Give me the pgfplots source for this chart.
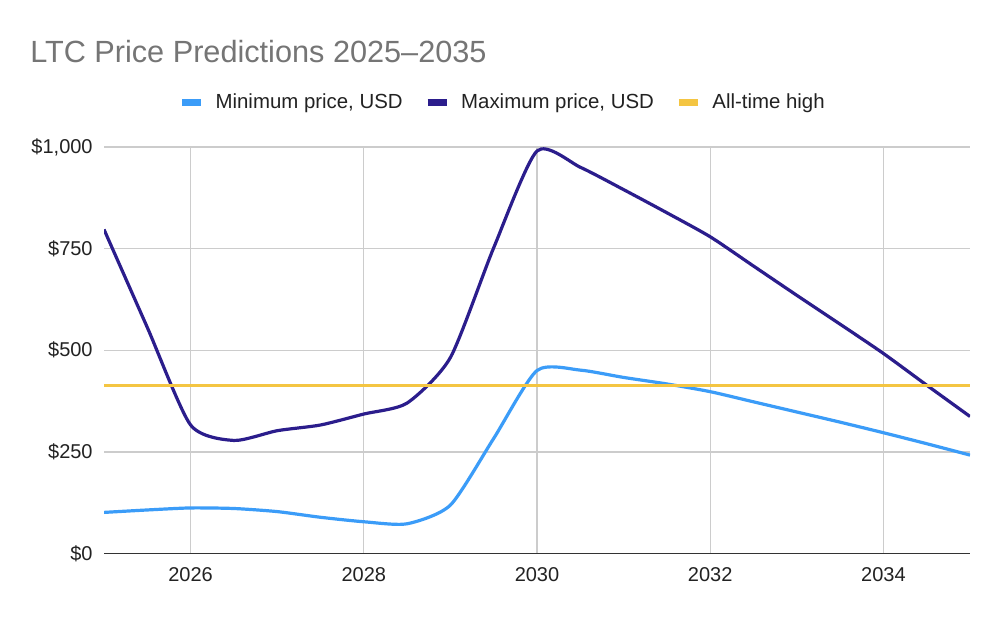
\documentclass[border=0pt]{standalone}
\usepackage{pgfplots}
\pgfplotsset{compat=1.18}
\usepackage{fontspec}
\setmainfont{Liberation Sans}
\definecolor{minc}{HTML}{3B9CF8}
\definecolor{maxc}{HTML}{2B1D8C}
\definecolor{athc}{HTML}{F4C542}
\definecolor{gridc}{HTML}{CCCCCC}
\definecolor{titlec}{HTML}{757575}
\definecolor{tickc}{HTML}{222222}
\begin{document}
\begin{tikzpicture}
\path[fill=white, use as bounding box] (0,0) rectangle (750pt,463.5pt);
\node[anchor=base west, text=titlec, inner sep=0pt, font=\fontsize{23}{28}\selectfont] at (22.5pt,416.5pt) {LTC Price Predictions 2025--2035};
\begin{axis}[
  at={(78pt,48.4pt)}, anchor=south west,
  scale only axis, width=649.5pt, height=304.9pt,
  xmin=2025, xmax=2035, ymin=0, ymax=1000,
  xtick={2026,2028,2030,2032,2034},
  ytick={0,250,500,750,1000},
  xticklabel={\pgfmathprintnumber[set thousands separator={}]{\tick}},
  yticklabel={\$\pgfmathprintnumber[set thousands separator={,}]{\tick}},
  /pgf/number format/assume math mode=true,
  tick label style={font=\fontsize{15}{18}\selectfont, text=tickc},
  xticklabel style={yshift=-7pt},
  yticklabel style={xshift=-5pt},
  major tick length=0pt,
  grid=major, grid style={gridc, line width=1pt},
  axis line style={draw=none},
  axis x line*=bottom, axis y line*=left,
  legend columns=3,
  legend style={at={(0.4606,1.1095)}, anchor=center, draw=none, fill=none,
    font=\fontsize{15.3}{18}\selectfont, text=tickc,
    /tikz/every odd column/.append style={column sep=6pt},
    /tikz/every even column/.append style={column sep=14pt}},
  legend image code/.code={\draw[#1, line width=5.5pt, line cap=butt] (0pt,0pt) -- (14.4pt,0pt);},
  clip=true,
]
\addplot[minc, line width=2.4pt, smooth, tension=0.4, line join=round] coordinates {
 (2025,101) (2025.5,107) (2026,112) (2026.5,110.6) (2027,103) (2027.5,89)
 (2028,78) (2028.5,73) (2029,119) (2029.5,283) (2030,450) (2030.5,451)
 (2031,433) (2031.5,417) (2032,398) (2032.5,373) (2033,348) (2033.5,323)
 (2034,297) (2034.5,270) (2035,242)};
\addlegendentry{Minimum price, USD}
\addplot[maxc, line width=2.4pt, smooth, tension=0.4, line join=round] coordinates {
 (2025,797) (2025.5,556) (2026,316) (2026.5,278) (2027,302) (2027.5,316)
 (2028,343) (2028.5,370) (2029,482) (2029.5,752) (2030,990) (2030.5,950)
 (2031,895) (2031.5,838) (2032,779) (2032.5,707) (2033,635) (2033.5,564)
 (2034,492) (2034.5,414) (2035,337)};
\addlegendentry{Maximum price, USD}
\addplot[athc, line width=2.4pt] coordinates {(2025,413) (2035,413)};
\addlegendentry{All-time high}
\draw[black!80, line width=1.2pt] (axis cs:2025,0) -- (axis cs:2035,0);
\end{axis}
\end{tikzpicture}
\end{document}
